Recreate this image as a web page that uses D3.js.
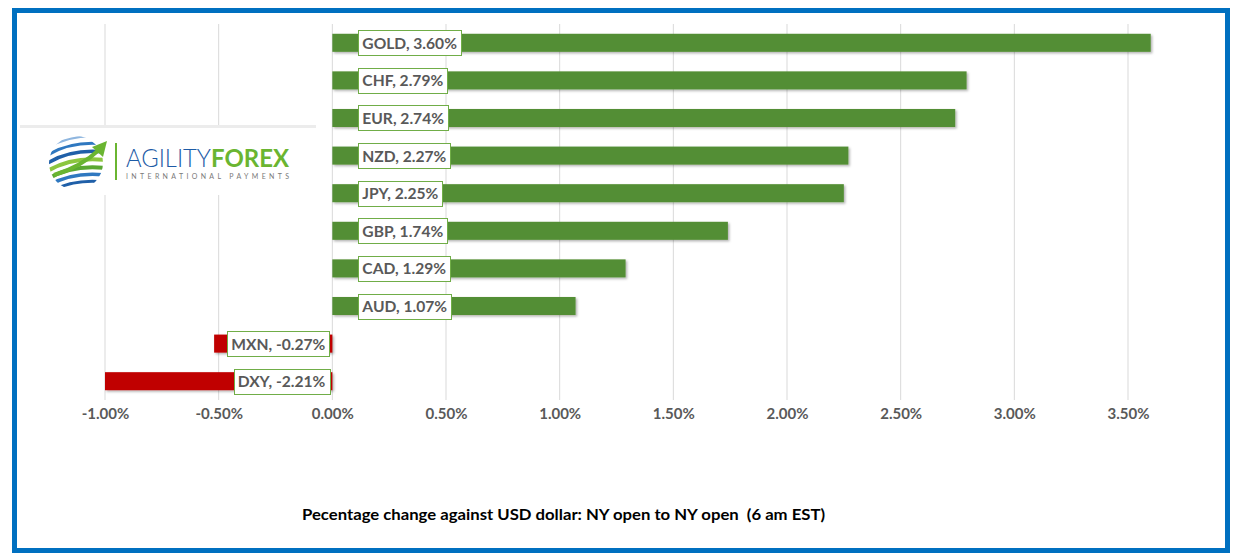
<!DOCTYPE html>
<html>
<head>
<meta charset="utf-8">
<script src="https://cdn.jsdelivr.net/npm/d3@7"></script>
<style>
	body { margin: 0; background: #fff; }
	svg text { font-family: Lato, "Open Sans", sans-serif; }
</style>
</head>
<body>
<svg id="chart" width="1236" height="556"></svg>
<script>
// currencies, top to bottom
let currencies = ['GOLD', 'CHF', 'EUR', 'NZD', 'JPY', 'GBP', 'CAD', 'AUD', 'MXN', 'DXY'];
// value printed in the label
let reported = [3.60, 2.79, 2.74, 2.27, 2.25, 1.74, 1.29, 1.07, -0.27, -2.21];
// bar length as drawn (DXY runs off the axis at -1%)
let barValues = [3.60, 2.79, 2.74, 2.27, 2.25, 1.74, 1.29, 1.07, -0.52, -2.21];
let ticks = [-1, -0.5, 0, 0.5, 1, 1.5, 2, 2.5, 3, 3.5];
let caption = 'Pecentage change against USD dollar: NY open to NY open  (6 am EST)';

let green = '#538e34', red = '#c00000';
let pct = v => v.toFixed(2) + '%';

let svg = d3.select('svg#chart');

// frame
svg.append('rect')
	.attr('x', 14.5).attr('y', 10.5)
	.attr('width', 1213).attr('height', 540)
	.attr('fill', '#fff')
	.attr('stroke', '#0070c0')
	.attr('stroke-width', 5);

let defs = svg.append('defs');
let shadow = defs.append('filter').attr('id', 'shadow')
	.attr('x', '-5%').attr('y', '-20%').attr('width', '110%').attr('height', '160%');
shadow.append('feDropShadow')
	.attr('dx', 1.5).attr('dy', 1.5).attr('stdDeviation', 1.2)
	.attr('flood-color', '#000').attr('flood-opacity', 0.3);

let x = d3.scaleLinear([-1, 3.5], [105, 1128]);
let y = d3.scaleBand(currencies, [24, 400]).paddingInner(0.52).paddingOuter(0.26);

// grid
svg.append('g').attr('class', 'grid')
	.selectAll('line')
	.data(ticks)
	.join('line')
	.attr('x1', d => x(d)).attr('x2', d => x(d))
	.attr('y1', 24).attr('y2', 400)
	.attr('stroke', '#d9d9d9')
	.attr('stroke-width', 1);

// tick labels
let axis = svg.append('g')
	.attr('transform', 'translate(0,' + 408 + ')')
	.call(d3.axisBottom(x).tickValues(ticks).tickFormat(pct).tickSize(0).tickPadding(0));
axis.select('.domain').remove();
axis.selectAll('text')
	.attr('dy', '0.71em')
	.attr('fill', '#595959')
	.style('font-size', '15px')
	.style('font-weight', 'bold');

// logo (image with white background, sits over the grid)
let logo = svg.append('g').attr('class', 'logo');
logo.append('rect')
	.attr('x', 20).attr('y', 126).attr('width', 296).attr('height', 69)
	.attr('fill', '#fff');
logo.append('rect')
	.attr('x', 20).attr('y', 125).attr('width', 296).attr('height', 3)
	.attr('fill', '#ececec');
let globe = logo.append('g').attr('transform', 'translate(76,163)');
globe.append('clipPath').attr('id', 'globeClip')
	.append('circle').attr('r', 27);
let swirls = [
	{ dy: -22, c: '#8fb6df', w: 2 },
	{ dy: -15, c: '#2f78c0', w: 3 },
	{ dy: -7, c: '#1f5fa8', w: 3.5 },
	{ dy: 1, c: '#8cc63f', w: 4 },
	{ dy: 9, c: '#5aa832', w: 4 },
	{ dy: 16, c: '#2f78c0', w: 3.5 },
	{ dy: 23, c: '#1f5fa8', w: 3 }
];
globe.append('g').attr('clip-path', 'url(#globeClip)')
	.selectAll('path')
	.data(swirls)
	.join('path')
	.attr('d', d => 'M-30,' + (d.dy + 8) + ' Q-5,' + (d.dy - 8) + ' 30,' + (d.dy - 4))
	.attr('fill', 'none')
	.attr('stroke', d => d.c)
	.attr('stroke-width', d => d.w)
	.attr('stroke-linecap', 'round');
// arrow
globe.append('path')
	.attr('d', 'M-22,12 Q5,4 24,-14')
	.attr('fill', 'none').attr('stroke', '#6ab531').attr('stroke-width', 4);
globe.append('path')
	.attr('d', 'M31,-22 L16,-16 L27,-6 Z')
	.attr('fill', '#6ab531');
logo.append('rect')
	.attr('x', 115).attr('y', 143).attr('width', 2).attr('height', 37)
	.attr('fill', '#6ab531');
logo.append('text')
	.attr('x', 126).attr('y', 167)
	.attr('textLength', 85).attr('lengthAdjust', 'spacingAndGlyphs')
	.attr('fill', '#1d5ba6')
	.style('font-size', '25px').style('font-weight', 300)
	.text('AGILITY');
logo.append('text')
	.attr('x', 211).attr('y', 167)
	.attr('textLength', 78).attr('lengthAdjust', 'spacingAndGlyphs')
	.attr('fill', '#6ab531')
	.style('font-size', '25px').style('font-weight', 'bold')
	.text('FOREX');
logo.append('text')
	.attr('x', 126).attr('y', 178.5)
	.attr('textLength', 163).attr('lengthAdjust', 'spacing')
	.attr('fill', '#7a7a7a')
	.style('font-size', '7px')
	.text('INTERNATIONAL PAYMENTS');

// bars
let rows = currencies.map((c, i) => ({ name: c, value: barValues[i], label: reported[i] }));
svg.append('g').attr('class', 'bars')
	.selectAll('rect')
	.data(rows)
	.join('rect')
	.attr('x', d => x(Math.min(0, Math.max(d.value, -1))))
	.attr('width', d => Math.abs(x(Math.max(d.value, -1)) - x(0)))
	.attr('y', d => y(d.name))
	.attr('height', y.bandwidth())
	.attr('fill', d => d.value < 0 ? red : green)
	.attr('filter', 'url(#shadow)');

// data labels
let labels = svg.append('g').attr('class', 'labels')
	.selectAll('g')
	.data(rows)
	.join('g');
labels.append('rect')
	.attr('fill', '#fff')
	.attr('stroke', '#70ad47')
	.attr('stroke-width', 1);
labels.append('text')
	.attr('fill', '#595959')
	.attr('dy', '0.35em')
	.style('font-size', '15.6px')
	.style('font-weight', 'bold')
	.text(d => d.name + ', ' + pct(d.label));
labels.each(function (d) {
	let g = d3.select(this);
	let w = g.select('text').node().getComputedTextLength() + 8;
	let cy = y(d.name) + y.bandwidth() / 2;
	let left = d.value < 0 ? x(0) - 3 - w : x(0) + 26;
	g.select('rect')
		.attr('x', Math.round(left) + 0.5).attr('y', Math.round(cy - 12.5) + 0.5)
		.attr('width', Math.round(w)).attr('height', 25);
	g.select('text')
		.attr('x', left + 4).attr('y', cy + 0.5);
});

// caption
svg.append('text')
	.attr('x', 302).attr('y', 520)
	.attr('textLength', 523).attr('lengthAdjust', 'spacingAndGlyphs')
	.attr('fill', '#000')
	.style('font-size', '14.5px')
	.style('font-weight', 'bold')
	.style('white-space', 'pre')
	.text(caption);
</script>
</body>
</html>
